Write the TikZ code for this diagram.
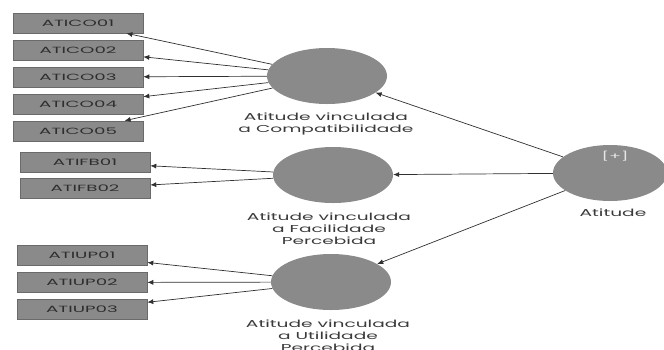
\documentclass[tikz,border=0pt]{standalone}
\usepackage{fontspec}
\usepackage{graphicx}
\setmainfont{Poppins}
\newfontfamily\diagfont[FakeStretch=1.5]{Poppins}
\usetikzlibrary{shapes.geometric,arrows.meta}
\definecolor{boxfill}{HTML}{8A8A8A}
\definecolor{boxedge}{HTML}{6A6A6A}
\definecolor{boxtext}{HTML}{2E2E2E}
\definecolor{ellfill}{HTML}{8A8A8A}
\definecolor{captext}{HTML}{3A3A3A}
\definecolor{linkcol}{HTML}{303030}
\definecolor{plustext}{HTML}{E6E6E6}
% horizontally widened text, single or stacked lines
\newcommand\hstretch[2]{\scalebox{#1}[1]{#2}}
\newcommand\stackedcap[1]{\hstretch{1.24}{\begin{tabular}{@{}c@{}}#1\end{tabular}}}
\begin{document}
\begin{tikzpicture}[x=1pt,y=-1pt,
  indicator/.style={draw=boxedge,fill=boxfill,line width=0.6pt,minimum width=130pt,minimum height=20pt,inner sep=0pt,
    font=\diagfont\fontsize{9}{10}\selectfont,text=boxtext},
  construct/.style={ellipse,fill=ellfill,minimum width=120pt,minimum height=56pt,inner sep=0pt},
  caption/.style={font=\diagfont\fontsize{10}{12}\selectfont,text=captext,inner sep=0pt},
  link/.style={draw=linkcol,line width=0.7pt,-{Latex[length=6pt,width=5pt]}}]
\useasboundingbox (0,0) rectangle (664,349);
\clip (0,0) rectangle (664,349);

% latent constructs
\node[construct] (compat) at (327,76) {};
\node[construct] (facil) at (333,175) {};
\node[construct] (util) at (331,282) {};
\node[construct,minimum width=114pt] (atitude) at (610,173) {};
\node[font=\diagfont\fontsize{9}{10}\selectfont,text=plustext,inner sep=0pt] (plus) at (615,156) {\hstretch{1.3}{[+]}};

% construct captions
\node[caption] (compatlbl) at (326,124) {\stackedcap{Atitude vinculada\\a Compatibilidade}};
\node[caption] (facillbl) at (329,230) {\stackedcap{Atitude vinculada\\a Facilidade\\Percebida}};
\node[caption] (utillbl) at (328,337) {\stackedcap{Atitude vinculada\\a Utilidade\\Percebida}};
\node[caption] (atitudelbl) at (613,214) {\stackedcap{Atitude}};

% indicators
\node[indicator] (ico1) at (78,23) {\hstretch{1.35}{ATICO01}};
\node[indicator] (ico2) at (78,50) {\hstretch{1.35}{ATICO02}};
\node[indicator] (ico3) at (78,77) {\hstretch{1.35}{ATICO03}};
\node[indicator] (ico4) at (78,104) {\hstretch{1.35}{ATICO04}};
\node[indicator] (ico5) at (78,131) {\hstretch{1.35}{ATICO05}};
\node[indicator] (ifb1) at (85,162.5) {\hstretch{1.35}{ATIFB01}};
\node[indicator] (ifb2) at (85,188.5) {\hstretch{1.35}{ATIFB02}};
\node[indicator] (iup1) at (82,255.5) {\hstretch{1.35}{ATIUP01}};
\node[indicator] (iup2) at (82,282.5) {\hstretch{1.35}{ATIUP02}};
\node[indicator] (iup3) at (82,309.5) {\hstretch{1.35}{ATIUP03}};

% structural paths
\draw[link] (atitude) -- (compat);
\draw[link] (atitude) -- (facil);
\draw[link] (atitude) -- (util);

% measurement paths
\foreach \t in {ico1,ico2,ico3,ico4,ico5} \draw[link] (compat) -- (\t);
\foreach \t in {ifb1,ifb2} \draw[link] (facil) -- (\t);
\foreach \t in {iup1,iup2,iup3} \draw[link] (util) -- (\t);
\end{tikzpicture}
\end{document}
